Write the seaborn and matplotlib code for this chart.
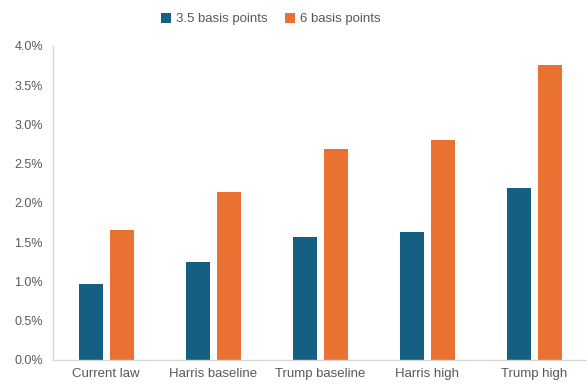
import matplotlib
matplotlib.use("Agg")
import matplotlib.pyplot as plt
import pandas as pd
import seaborn as sns
from matplotlib.ticker import PercentFormatter

# ---------------------------------------------------------------------------
CATEGORIES = ["Current law", "Harris baseline", "Trump baseline", "Harris high", "Trump high"]
SERIES     = ["3.5 basis points", "6 basis points"]
BP35       = [0.97, 1.25, 1.56, 1.63, 2.19]
BP6        = [1.66, 2.14, 2.68, 2.80, 3.76]
COLORS     = ["#156082", "#E97132"]
Y_TICKS    = [0.0, 0.5, 1.0, 1.5, 2.0, 2.5, 3.0, 3.5, 4.0]

df = pd.DataFrame({
    "category": CATEGORIES * 2,
    "series":   [SERIES[0]] * len(CATEGORIES) + [SERIES[1]] * len(CATEGORIES),
    "value":    BP35 + BP6,
})

sns.set_style("white")
plt.rcParams["font.family"] = ["Liberation Sans", "DejaVu Sans"]
TEXT = "#595959"

fig = plt.figure(figsize=(5.87, 3.85), dpi=100)
ax = fig.add_axes([0.0898, 0.065, 0.912, 0.816])

sns.barplot(data=df, x="category", y="value", hue="series",
            palette=COLORS, saturation=1, width=0.58, gap=0.22, ax=ax,
            edgecolor="none", linewidth=0)

ax.set_xlim(-0.5, 4.5)
ax.set_ylim(0, 4.0)
ax.set_yticks(Y_TICKS)
ax.yaxis.set_major_formatter(PercentFormatter(decimals=1))
ax.set_xlabel("")
ax.set_ylabel("")

for side in ["top", "right"]:
    ax.spines[side].set_visible(False)
ax.spines["left"].set_color("#D9D9D9")
ax.spines["bottom"].set_color("#D9D9D9")
ax.spines["left"].set_linewidth(1.0)
ax.spines["bottom"].set_linewidth(1.0)

ax.tick_params(axis="y", length=4, color="#D9D9D9", labelsize=9, labelcolor=TEXT, pad=3)
ax.tick_params(axis="x", length=0, labelsize=9.5, labelcolor=TEXT, pad=6)

handles, labels = ax.get_legend_handles_labels()
ax.legend(handles, labels, loc="center", bbox_to_anchor=(0.462, 0.95), bbox_transform=fig.transFigure,
          ncol=2, frameon=False, fontsize=9.5, labelcolor=TEXT,
          handlelength=0.75, handleheight=0.75, handletextpad=0.4, columnspacing=1.3)

fig.savefig("out.png", dpi=100)
plt.close(fig)
